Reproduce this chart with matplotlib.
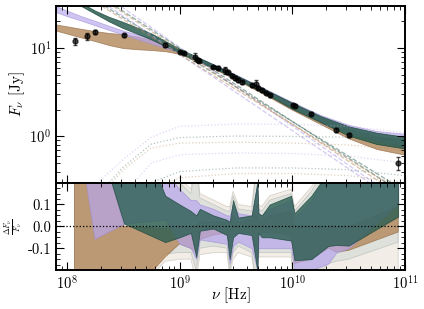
# SED fit with three models: flux density and fractional residuals
import matplotlib
matplotlib.use('Agg')
import matplotlib.pyplot as plt
import numpy as np

plt.rcParams['font.family'] = 'cmr10'
plt.rcParams['mathtext.fontset'] = 'cm'
plt.rcParams['axes.unicode_minus'] = False
plt.rcParams['axes.formatter.use_mathtext'] = True

# observed points
nu_obs = [1.17e8, 1.52e8, 1.76e8, 3.2e8, 7.5e8, 1.0e9, 1.1e9, 1.38e9, 1.45e9, 1.5e9,
          2.0e9, 2.2e9, 2.55e9, 2.7e9, 2.9e9, 3.1e9, 3.3e9, 3.6e9, 4.4e9, 4.8e9,
          5.0e9, 5.4e9, 5.8e9, 6.3e9, 1.02e10, 1.05e10, 1.48e10, 2.45e10, 3.16e10, 8.7e10]
flux_obs = [11.9, 13.6, 15.3, 13.9, 10.8, 9.0, 8.8, 7.9, 7.3, 7.2,
            6.1, 6.0, 5.6, 5.3, 4.87, 4.6, 4.38, 4.1, 3.78, 3.9,
            3.56, 3.32, 3.1, 2.91, 2.24, 2.22, 1.81, 1.19, 1.03, 0.50]
err_obs = [1.0, 1.2, 0.8, 0.6, 0.6, 0.3, 0.3, 0.8, 0.3, 0.3,
           0.2, 0.2, 0.5, 0.2, 0.2, 0.2, 0.2, 0.15, 0.15, 0.4,
           0.12, 0.12, 0.1, 0.1, 0.08, 0.08, 0.07, 0.06, 0.05, 0.08]

# model bands (log10 frequency grid)
lg = [7.9, 8.0, 8.125, 8.25, 8.375, 8.5, 8.625, 8.75, 8.875, 9.0,
      9.25, 9.5, 9.75, 10.0, 10.25, 10.5, 10.75, 11.0]
purple_hi = [30, 26.5, 23, 20.3, 17.8, 15.7, 14.3, 13.0, 11.2, 9.6,
             7.0, 5.0, 3.5, 2.45, 1.75, 1.35, 1.15, 1.07]
purple_lo = [25.6, 23.0, 20.5, 18.1, 16.0, 14.2, 12.6, 11.2, 10.0, 8.9,
             6.5, 4.6, 3.2, 2.15, 1.5, 1.1, 0.9, 0.78]
teal_hi = [48, 40, 32.5, 26.5, 22.5, 19.7, 17, 14.6, 12, 9.8,
           7.0, 4.95, 3.45, 2.4, 1.7, 1.3, 1.1, 0.99]
teal_lo = [43, 36, 30, 24.5, 20, 16.8, 14.5, 12.5, 10.5, 8.8,
           6.4, 4.5, 3.1, 2.05, 1.45, 1.02, 0.82, 0.73]
tan_hi = [18.5, 17.6, 16.5, 15.5, 14.8, 14.3, 13.5, 12.3, 10.8, 9.5,
          6.9, 4.9, 3.4, 2.35, 1.65, 1.22, 1.0, 0.93]
tan_lo = [15.8, 14.6, 13.2, 12.0, 10.8, 10.0, 9.7, 9.5, 9.2, 8.6,
          6.3, 4.4, 3.0, 2.0, 1.38, 0.95, 0.72, 0.62]

# power-law components (values at 1e8 and 1e11 Hz)
pl_nu = [1e8, 1e11]
pl_purple = [[79, 0.170], [62, 0.16]]
pl_teal = [[54.7, 0.242], [67.6, 0.219]]
pl_tan = [[52.3, 0.222], [65.8, 0.199]]

# self-absorbed components
lg_sa = [8.0, 8.25, 8.5, 8.75, 9.0, 9.5, 10.0, 10.5, 11.0]
sa_purple = [[0.12, 0.28, 0.55, 0.98, 1.3, 1.38, 1.37, 1.3, 1.1],
             [0.03, 0.08, 0.22, 0.5, 0.62, 0.65, 0.64, 0.6, 0.5]]
sa_teal = [[0.08, 0.2, 0.45, 0.82, 0.97, 1.01, 1.0, 0.98, 0.9],
           [0.01, 0.04, 0.12, 0.3, 0.4, 0.44, 0.44, 0.42, 0.36]]
sa_tan = [[0.07, 0.18, 0.42, 0.74, 0.84, 0.86, 0.84, 0.8, 0.7],
          [0.01, 0.03, 0.1, 0.25, 0.34, 0.38, 0.38, 0.36, 0.3]]

# residual bands
lg_res = [8.068, 8.183, 8.246, 8.507, 8.873, 9.00, 9.10, 9.148, 9.18, 9.30,
          9.42, 9.445, 9.475, 9.52, 9.64, 9.69, 9.70, 9.73, 9.80, 9.99,
          10.02, 10.17, 10.32, 10.39, 10.50, 10.94]
res_teal_lo = [0.6, 0.55, 0.45, 0.013, -0.072, -0.05, -0.03, -0.14, -0.02, -0.01,
               -0.04, -0.15, -0.05, -0.03, -0.04, -0.2, -0.03, -0.05, -0.05, -0.065,
               -0.155, -0.15, -0.09, -0.085, -0.088, 0.045]
res_teal_hi = [1, 1, 1, 0.6, 0.14, 0.10, 0.07, 0.05, 0.08, 0.05,
               0.03, 0.02, 0.12, 0.04, 0.05, 0.2, 0.06, 0.05, 0.10, 0.14,
               0.06, 0.14, 0.25, 0.3, 0.3, 0.3]
res_purple_lo = [0.6, 0.15, -0.057, 0.013, 0.03, -0.08, -0.1, -0.15, -0.06, -0.07,
                 -0.08, -0.17, -0.09, -0.07, -0.1, -0.2, -0.1, -0.1, -0.1, -0.1,
                 -0.2, -0.2, -0.17, -0.12, -0.1, 0.1]
res_purple_hi = [1, 1, 1, 0.5, 0.25, 0.17, 0.12, 0.12, 0.10, 0.08,
                 0.05, 0.05, 0.1, 0.06, 0.05, 0.2, 0.06, 0.05, 0.08, 0.12,
                 0.04, 0.12, 0.25, 0.3, 0.3, 0.3]
res_tan_lo = [-1, -1, -1, -0.35, -0.14, -0.08, -0.1, -0.12, -0.06, -0.04,
              -0.03, -0.1, -0.04, -0.03, -0.03, -0.15, -0.03, -0.03, -0.03, -0.04,
              -0.17, -0.15, -0.1, -0.118, -0.11, -0.026]
res_tan_hi = [1, 1, 0.5, 0.0, -0.01, 0.0, 0.0, 0.0, 0.02, 0.02,
              0.02, 0.02, 0.05, 0.02, 0.03, 0.1, 0.03, 0.03, 0.05, 0.07,
              0.0, 0.0, 0.0, 0.0, 0.0, 0.09]
res_grey_lo = [-1, -1, -0.5, -0.3, -0.125, -0.12, -0.12, -0.2, -0.1, -0.09,
               -0.1, -0.2, -0.12, -0.09, -0.12, -0.3, -0.12, -0.12, -0.12, -0.12,
               -0.25, -0.25, -0.17, -0.16, -0.15, -0.072]
res_grey_hi = [1, 1, 1, 0.6, 0.25, 0.2, 0.15, 0.3, 0.13, 0.1,
               0.07, 0.07, 0.14, 0.08, 0.07, 0.3, 0.08, 0.07, 0.12, 0.15,
               0.07, 0.16, 0.3, 0.3, 0.3, 0.3]
res_beige_lo = [-1, -1, -0.6, -0.35, -0.16, -0.15, -0.15, -0.25, -0.13, -0.12,
                -0.12, -0.22, -0.15, -0.12, -0.14, -0.3, -0.14, -0.14, -0.14, -0.14,
                -0.3, -0.3, -0.3, -0.3, -0.3, -0.5]
res_beige_hi = [1, 1, 1, 0.62, 0.27, 0.22, 0.17, 0.32, 0.15, 0.12,
                0.09, 0.09, 0.16, 0.1, 0.09, 0.32, 0.1, 0.09, 0.14, 0.17,
                0.09, 0.18, 0.32, 0.32, 0.32, 0.32]

c_purple = '#b7a6ec'
c_teal = '#2b5e51'
c_tan = '#b3875a'
c_grey = '#d6dbd7'
c_beige = '#efe9e1'

fig = plt.figure(figsize=(4.24, 3.09), dpi=100)
ax1 = fig.add_axes([0.132, 0.409, 0.823, 0.572])
ax2 = fig.add_axes([0.132, 0.126, 0.823, 0.283], sharex=ax1)

nu = 10 ** np.array(lg)
ax1.fill_between(nu, tan_lo, tan_hi, color=c_tan, alpha=0.8, lw=0.6, edgecolor='#9a7650')
ax1.fill_between(nu, purple_lo, purple_hi, color=c_purple, alpha=0.65, lw=0.6, edgecolor='#a090d8')
ax1.fill_between(nu, teal_lo, teal_hi, color=c_teal, alpha=0.85, lw=0.6, edgecolor='#1f4a40')

for vals in pl_purple:
    ax1.plot(pl_nu, vals, ls='--', color=c_purple, lw=0.9, alpha=0.6)
for vals in pl_teal:
    ax1.plot(pl_nu, vals, ls='--', color=c_teal, lw=0.9, alpha=0.5)
for vals in pl_tan:
    ax1.plot(pl_nu, vals, ls='--', color=c_tan, lw=0.9, alpha=0.5)

nu_sa = 10 ** np.array(lg_sa)
for vals in sa_purple:
    ax1.plot(nu_sa, vals, ls=':', color=c_purple, lw=0.9, alpha=0.45)
for vals in sa_teal:
    ax1.plot(nu_sa, vals, ls=':', color=c_teal, lw=0.9, alpha=0.35)
for vals in sa_tan:
    ax1.plot(nu_sa, vals, ls=':', color=c_tan, lw=0.9, alpha=0.4)

ax1.errorbar(nu_obs, flux_obs, yerr=err_obs, fmt='o', color='k', ms=3.5,
             alpha=0.7, elinewidth=0.8, capsize=1.5)

ax1.set_xscale('log')
ax1.set_yscale('log')
ax1.set_xlim(8e7, 1e11)
ax1.set_ylim(0.3, 30)
ax1.set_ylabel(r'$F_\nu$ [Jy]', fontsize=11)
plt.setp(ax1.get_xticklabels(), visible=False)

nr = 10 ** np.array(lg_res)
ax2.fill_between(nr, res_beige_lo, res_beige_hi, color=c_beige, alpha=0.8, lw=0.6, edgecolor='#cfc9c0')
ax2.fill_between(nr, res_grey_lo, res_grey_hi, color=c_grey, alpha=0.7, lw=0.6, edgecolor='#b8bdb9')
ax2.fill_between(nr, res_tan_lo, res_tan_hi, color=c_tan, alpha=0.8, lw=0.6, edgecolor='#9a7650')
ax2.fill_between(nr, res_purple_lo, res_purple_hi, color=c_purple, alpha=0.7, lw=0.6, edgecolor='#a090d8')
ax2.fill_between(nr, res_teal_lo, res_teal_hi, color=c_teal, alpha=0.8, lw=0.6, edgecolor='#1f4a40')
ax2.axhline(0, color='k', ls=':', lw=0.9)

ax2.set_ylim(-0.2, 0.2)
ax2.set_yticks([-0.1, 0.0, 0.1])
ax2.set_yticklabels(['-0.1', '0.0', '0.1'])
ax2.set_yticks(np.arange(-0.175, 0.2, 0.025), minor=True)
ax2.set_xlabel(r'$\nu$ [Hz]', fontsize=11)
ax2.set_ylabel(r'$\frac{\Delta F_\nu}{F_\nu}$', fontsize=8)

for ax in (ax1, ax2):
    ax.tick_params(which='both', direction='in', top=True, right=True, labelsize=10.5)
    ax.tick_params(which='major', length=6, width=0.8)
    ax.tick_params(which='minor', length=3, width=0.6)
    for s in ax.spines.values():
        s.set_linewidth(1.4)
ax2.yaxis.set_label_coords(-0.09, 0.5)
ax1.yaxis.set_label_coords(-0.083, 0.5)
ax2.xaxis.set_label_coords(0.5, -0.17)

fig.savefig('out.png', dpi=100)
